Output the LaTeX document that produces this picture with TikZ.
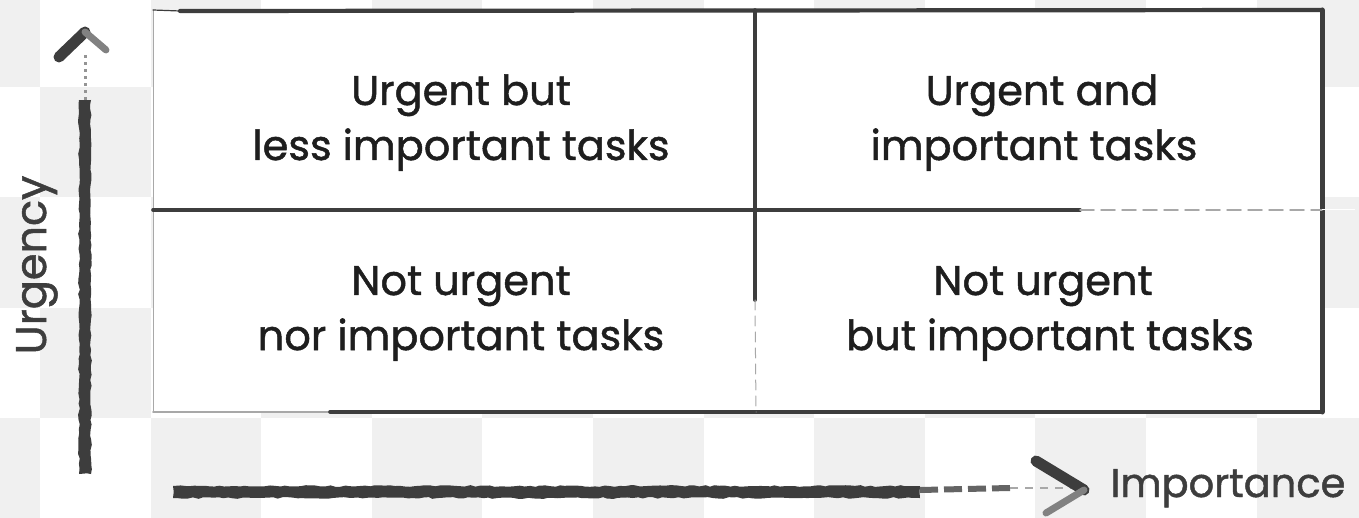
\documentclass[tikz,border=0pt]{standalone}
\usepackage{fontspec}
\newfontfamily\hand{Poppins}[FakeBold=1.2]
\usetikzlibrary{decorations.pathmorphing,calc}
\definecolor{ink}{HTML}{3D3D3D}
\definecolor{txt}{HTML}{1E1E1E}
\definecolor{chk}{HTML}{F0F0F0}
\begin{document}
\begin{tikzpicture}[x=1pt,y=-1pt,
  qtext/.style={font=\hand\fontsize{41.5}{48}\selectfont, text=txt, inner sep=0pt, anchor=base},
  axlabel/.style={font=\hand\fontsize{40}{48}\selectfont, text=ink, inner sep=0pt, anchor=base},
  rough/.style={decorate, decoration={random steps, segment length=5pt, amplitude=0.9pt}},
  border/.style={draw=ink, line cap=round},
  faint/.style={draw=ink!45, line cap=round},
]
\pgfmathsetseed{42}
\useasboundingbox (0,0) rectangle (1359,518);

% checkerboard background
\begin{scope}
  \clip (0,0) rectangle (1359,518);
  \foreach \i in {0,...,13}{
    \foreach \j in {0,...,4}{
      \pgfmathtruncatemacro\parity{mod(\i+\j,2)}
      \ifnum\parity=0
        \fill[chk] ({-70.6+110.6*\i},{-24+110.6*\j}) rectangle ++(110.6,110.6);
      \fi
    }
  }
\end{scope}

% frame corners and dividers
\coordinate (NW) at (153,10);
\coordinate (NE) at (1322,10);
\coordinate (SW) at (153,412);
\coordinate (SE) at (1322,412);
\coordinate (Mtop) at (755,10);
\coordinate (Mbot) at (756,412);
\coordinate (Mleft) at (153,210);
\coordinate (Mright) at (1322,210);

\fill[white] (NW) rectangle (SE);

% outer border
\draw[faint, line width=1] (NW) -- (SW);
\draw[border, line width=1.2] (NW) -- (180,11);
\draw[border, line width=4.2] (180,11) -- (NE);
\draw[border, line width=5] (NE) -- (SE);
\draw[faint, line width=1.6] (SW) -- (330,412);
\draw[border, line width=3.6] (330,412) -- (SE);

% dividers
\draw[border, line width=3.6] (Mleft) -- (1080,210);
\draw[faint, line width=1.5, dash pattern=on 14pt off 7pt] (1080,210) -- (Mright);
\draw[white, line width=1] (Mright) -- (1355,210);
\draw[border, line width=3.6] (Mtop) -- (755,300);
\draw[faint, line width=1, dash pattern=on 10pt off 6pt] (755,300) -- (Mbot);

% quadrant labels
\node[qtext] (q1a) at (461,105) {Urgent but};
\node[qtext] (q1b) at (461,160) {less important tasks};
\node[qtext] (q2a) at (1042,105) {Urgent and};
\node[qtext] (q2b) at (1034,160) {important tasks};
\node[qtext] (q3a) at (461,295) {Not urgent};
\node[qtext] (q3b) at (461,350) {nor important tasks};
\node[qtext] (q4a) at (1043,295) {Not urgent};
\node[qtext] (q4b) at (1050,350) {but important tasks};

% axis labels
\node[axlabel, rotate=90, font=\hand\fontsize{43}{48}\selectfont] (urg) at (46,265) {Urgency};
\node[axlabel] (imp) at (1228,497) {Importance};

% vertical axis arrow
\coordinate (vfoot) at (85,474);
\coordinate (vtip) at (85,32);
\fill[ink, rough] ($(vfoot)+(-6,0)$) rectangle ($(vtip)+(6,68)$);
\draw[ink!55, line width=3, dash pattern=on 3pt off 4pt] ($(vtip)+(0,68)$) -- ($(vtip)+(0,22)$);
\draw[ink, line width=11, line cap=round, line join=round] (59,57) -- (vtip);
\draw[ink!65, line width=7, line cap=round] (vtip) -- (106,50);

% horizontal axis arrow
\coordinate (hfoot) at (173,492);
\coordinate (htip) at (1084,490);
\fill[ink, rough] ($(hfoot)+(0,-6)$) rectangle (920,498);
\draw[ink!80, line width=6, dash pattern=on 18pt off 6pt] (920,490) -- (1010,488);
\draw[ink!45, line width=2.5, dash pattern=on 8pt off 7pt] (1010,488) -- ($(htip)+(-8,-2)$);
\draw[ink, line width=11, line cap=round, line join=round] (1036,461) -- (htip);
\draw[ink!65, line width=7, line cap=round] (htip) -- (1046,513);
\end{tikzpicture}
\end{document}
